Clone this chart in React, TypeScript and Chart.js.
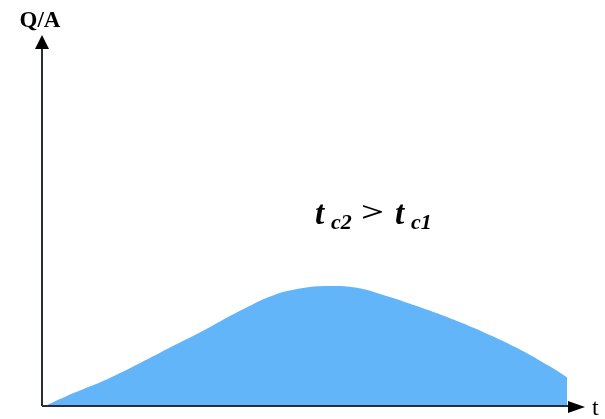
import React, { useEffect, useRef } from "react";
import { Chart, registerables } from "chart.js";

Chart.register(...registerables);

// time (0..10) along the t axis, Q/A (0..100) along the vertical axis
const timeValues = [0.06, 0.6, 1.24, 1.87, 2.5, 3.14, 3.77, 4.4, 5.0, 5.5, 6.0, 6.5, 7.14, 7.77, 8.4, 9.05, 9.68, 10.0];
const flowValues = [0, 3.6, 7.5, 12.0, 16.8, 21.6, 26.6, 30.9, 33.0, 33.5, 33.0, 31.0, 27.9, 24.5, 20.7, 16.2, 11.0, 8.0];
const yAxisLabel = "Q/A";
const xAxisLabel = "t";

const axesPlugin = {
  id: "axesArrows",
  afterDatasetsDraw(chart: any) {
    const ctx = chart.ctx;
    const { left, right, top, bottom } = chart.chartArea;
    ctx.save();
    ctx.strokeStyle = "#2a2d3a";
    ctx.fillStyle = "#000";
    ctx.lineWidth = 2;
    // y axis
    ctx.beginPath();
    ctx.moveTo(left, bottom);
    ctx.lineTo(left, top);
    ctx.stroke();
    ctx.beginPath();
    ctx.moveTo(left, top - 13);
    ctx.lineTo(left - 7, top + 1);
    ctx.lineTo(left + 7, top + 1);
    ctx.closePath();
    ctx.fill();
    // x axis
    ctx.beginPath();
    ctx.moveTo(left, bottom);
    ctx.lineTo(right + 2, bottom);
    ctx.stroke();
    ctx.beginPath();
    ctx.moveTo(right + 18, bottom + 1);
    ctx.lineTo(right + 1, bottom - 5);
    ctx.lineTo(right + 1, bottom + 7);
    ctx.closePath();
    ctx.fill();
    // labels
    ctx.fillStyle = "#000";
    ctx.font = "bold 23px 'Liberation Serif', serif";
    ctx.textAlign = "center";
    ctx.textBaseline = "alphabetic";
    ctx.fillText(yAxisLabel, left - 2, top - 21);
    ctx.textAlign = "left";
    ctx.font = "24px 'Liberation Serif', serif";
    ctx.fillText(xAxisLabel, right + 25, bottom + 9);

    // annotation t_c2 > t_c1
    const xs = chart.scales.x;
    const ys = chart.scales.y;
    const ax = xs.getPixelForValue(5.2);
    const ay = ys.getPixelForValue(50.7);
    ctx.font = "bold italic 33px 'Liberation Serif', serif";
    ctx.fillText("t", ax, ay);
    ctx.font = "bold italic 22px 'Liberation Serif', serif";
    ctx.fillText("c2", ax + 16, ay + 5);
    ctx.save();
    ctx.translate(ax + 46, ay - 3);
    ctx.scale(1.45, 0.95);
    ctx.font = "bold 28px 'Liberation Serif', serif";
    ctx.fillText(">", 0, 0);
    ctx.restore();
    ctx.font = "bold italic 33px 'Liberation Serif', serif";
    ctx.fillText("t", ax + 80, ay);
    ctx.font = "bold italic 22px 'Liberation Serif', serif";
    ctx.fillText("c1", ax + 96, ay + 5);
    ctx.restore();
  },
};

export default function App() {
  const ref = useRef<HTMLCanvasElement | null>(null);
  useEffect(() => {
    if (!ref.current) return;
    const chart = new Chart(ref.current, {
      type: "line",
      data: {
        datasets: [
          {
            data: timeValues.map((t, i) => ({ x: t, y: flowValues[i] })),
            borderWidth: 0,
            borderColor: "rgba(0,0,0,0)",
            backgroundColor: "#63b5fa",
            fill: "origin",
            pointRadius: 0,
            tension: 0.4,
          },
        ],
      },
      options: {
        animation: false,
        responsive: false,
        layout: { padding: { left: 42, right: 38, top: 48, bottom: 13 } },
        plugins: { legend: { display: false }, tooltip: { enabled: false } },
        scales: {
          x: { type: "linear", min: 0, max: 10, display: false },
          y: { type: "linear", min: 0, max: 100, display: false },
        },
      },
      plugins: [axesPlugin],
    });
    return () => chart.destroy();
  }, []);
  return (
    <div style={{ position: "fixed", left: 0, top: 0, width: 605, height: 419, background: "#fff" }}>
      <canvas ref={ref} width={605} height={419} />
    </div>
  );
}
